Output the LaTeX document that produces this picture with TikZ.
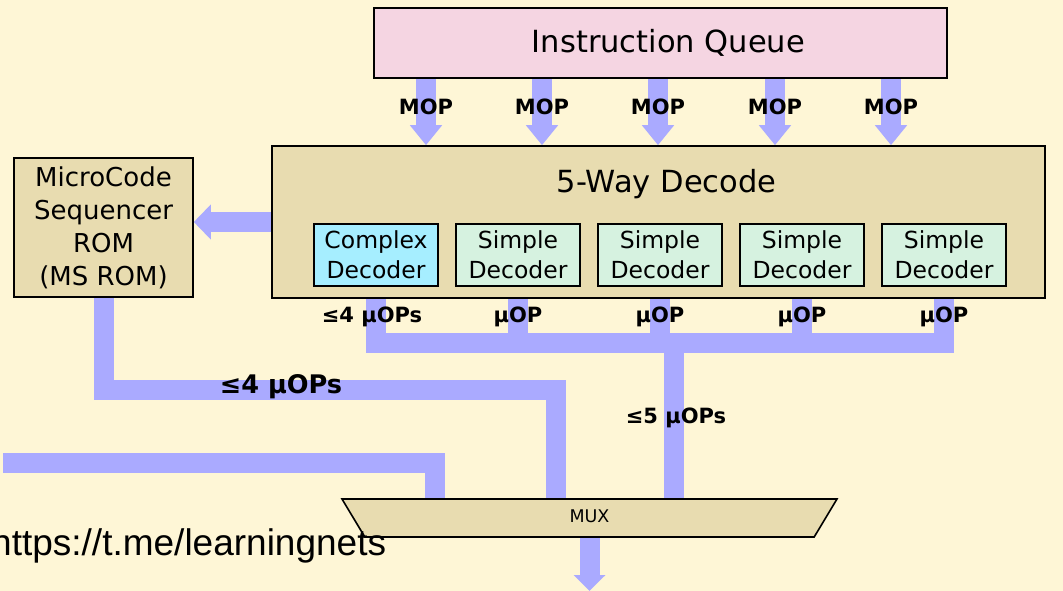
\documentclass[tikz,border=0pt]{standalone}
\usepackage{fontspec}
\setmainfont{DejaVu Sans}
\newfontfamily\urlfont{Liberation Sans}
\usetikzlibrary{shapes.geometric, arrows.meta, positioning}
\definecolor{pagebg}{RGB}{254,246,214}
\definecolor{tanbox}{RGB}{232,220,176}
\definecolor{queuepink}{RGB}{245,213,226}
\definecolor{complexcyan}{RGB}{166,238,255}
\definecolor{simplegreen}{RGB}{214,242,224}
\definecolor{busblue}{RGB}{170,170,255}
\pgfdeclarelayer{paper}
\pgfdeclarelayer{wires}
\pgfsetlayers{paper,wires,main}
\tikzset{
  basebox/.style={rectangle, draw=black, line width=1.6pt, align=center, inner sep=0pt},
  queuebox/.style={basebox, fill=queuepink, minimum width=573pt, minimum height=70pt},
  decodebox/.style={basebox, fill=tanbox, minimum width=773pt, minimum height=152pt},
  rombox/.style={basebox, fill=tanbox, minimum width=179pt, minimum height=139pt, font=\fontsize{26}{33}\selectfont},
  decoder/.style={basebox, minimum width=124pt, minimum height=62pt, font=\fontsize{23.5}{30}\selectfont},
  complexdec/.style={decoder, fill=complexcyan},
  simpledec/.style={decoder, fill=simplegreen},
  muxbox/.style={trapezium, trapezium left angle=121, trapezium right angle=121, trapezium stretches body,
    draw=black, line width=1.6pt, fill=tanbox, inner xsep=0pt, inner ysep=11.5pt,
    text height=12pt, text depth=3pt, minimum width=495pt, minimum height=38pt,
    font=\fontsize{17.5}{20}\selectfont},
  bigtext/.style={font=\fontsize{30.5}{36}\selectfont},
  bus/.style={draw=busblue, line width=20pt, line join=miter},
  busarrow/.style={bus, -{Triangle[width=31pt,length=20pt]}},
  buslabel/.style={font=\bfseries\fontsize{21}{24}\selectfont, inner sep=0pt}
}

\begin{document}
\begin{tikzpicture}[x=1pt, y=-1pt]
  \begin{pgfonlayer}{paper}
    \fill[pagebg] (0,0) rectangle (1063,591);
  \end{pgfonlayer}
  \useasboundingbox (0,0) rectangle (1063,591);

  % queue, decode block and microcode ROM
  \node[queuebox] (iq) at (660.5,43) {};
  \node[bigtext] (iqtext) at ([xshift=8pt]iq.center) {Instruction Queue};
  \node[decodebox] (dec) at (658.5,222) {};
  \node[bigtext, anchor=base] (title) at (666.5,193) {5-Way Decode};
  \node[rombox] (rom) at (103.5,227.5) {MicroCode\\Sequencer\\ROM\\(MS ROM)};

  % the five decoders
  \node[complexdec] (cd) at (376,255) {Complex\\Decoder};
  \node[simpledec, right=16.4pt of cd] (sd1) {Simple\\Decoder};
  \node[simpledec, right=16.4pt of sd1] (sd2) {Simple\\Decoder};
  \node[simpledec, right=16.4pt of sd2] (sd3) {Simple\\Decoder};
  \node[simpledec, right=16.4pt of sd3] (sd4) {Simple\\Decoder};

  \node[muxbox] (mux) at (589.5,518) {MUX};

  \coordinate (bus) at (660,343);
  \coordinate (join) at (674,343);
  \coordinate (romturn) at (556,390);
  \coordinate (feed) at (3,463);
  \coordinate (feedturn) at (435,463);

  \begin{pgfonlayer}{wires}
    \foreach \x [count=\i] in {426,542,658,775,891}
      \draw[busarrow] (\x,0 |- iq.south) -- (\x,0 |- dec.north);
    \draw[bus, -{Triangle[width=34pt,length=17pt]}] (dec.west) -- (dec.west -| rom.east);
    % decoder outputs onto the uop bus
    \draw[bus] (cd.south |- dec.south) |- (sd4.south |- bus) -- (sd4.south |- dec.south);
    \foreach \n in {sd1,sd2,sd3}
      \draw[bus] (\n.south |- dec.south) -- (\n.south |- bus);
    \draw[bus] (join) -- (join |- mux.north);
    \draw[bus] (rom.south) |- (romturn) -- (romturn |- mux.north);
    \draw[bus] (feed) -- (feedturn) -- (feedturn |- mux.north);
    \draw[bus, -{Triangle[width=31pt,length=16pt]}] (mux.south) -- (mux.south |- 0,591);
  \end{pgfonlayer}

  % labels
  \foreach \x [count=\i] in {426,542,658,775,891}
    \node[buslabel] (mop\i) at (\x,107) {MOP};
  \node[buslabel] (lcd) at (372,317) {≤4 µOPs};
  \foreach \n in {sd1,sd2,sd3,sd4}
    \node[buslabel] (l\n) at (\n.south |- 0,317) {µOP};
  \node[buslabel, font=\bfseries\fontsize{25.6}{30}\selectfont] (lrom) at (281,387) {≤4 µOPs};
  \node[buslabel] (ljoin) at (676,418) {≤5 µOPs};

  \node[font=\urlfont\fontsize{37}{42}\selectfont, anchor=base west, inner sep=0pt] (url) at (-9,555)
    {https://t.me/learningnets};
\end{tikzpicture}
\end{document}
